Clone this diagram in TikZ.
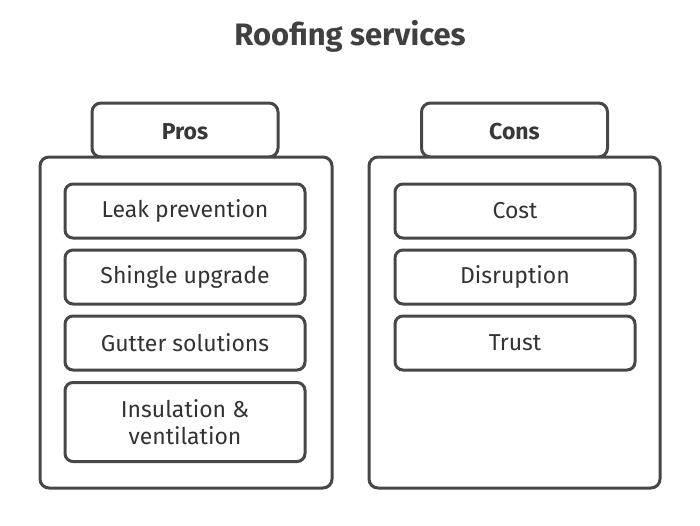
\documentclass[tikz,border=0pt]{standalone}
\usepackage{fontspec}
\setmainfont{Fira Sans}
\begin{document}
\begin{tikzpicture}[x=1pt,y=-1pt,
  ink/.style={draw=black!72, line width=3pt, rounded corners=9pt, fill=white},
  panel/.style={ink, minimum width=292pt, minimum height=331pt, inner sep=0pt},
  tabbox/.style={ink, minimum width=186pt, minimum height=54pt, inner sep=0pt},
  tablabel/.style={font=\fontsize{23}{26}\selectfont\bfseries, text=black!78},
  item/.style={ink, rounded corners=8pt, minimum width=240pt, minimum height=54pt, inner sep=0pt, align=center, font=\fontsize{23}{27}\selectfont, text=black!80},
  ttl/.style={font=\fontsize{31}{36}\selectfont\bfseries, text=black!75}]
\useasboundingbox (0,0) rectangle (700,525);
\node[ttl] (title) at (350,36) {Roofing services};
% Pros
\node[tabbox] (protab) at (185,130) {};
\node[panel] (propanel) at (186,322.5) {};
\node[tablabel] (protext) at (185,132) {Pros};
\node[item] (leak) at (185,211) {Leak prevention};
\node[item] (shingle) at (185,277) {Shingle upgrade};
\node[item] (gutter) at (185,343) {Gutter solutions};
\node[item, minimum height=79pt] (insul) at (185,422) {Insulation \&\\ventilation};
% Cons
\node[tabbox] (contab) at (514.5,130) {};
\node[panel, minimum width=291pt] (conpanel) at (514.5,322.5) {};
\node[tablabel] (context) at (514.5,132) {Cons};
\node[item] (cost) at (515,211) {Cost};
\node[item] (disr) at (515,277) {Disruption};
\node[item] (trust) at (515,343) {Trust};
\end{tikzpicture}
\end{document}
